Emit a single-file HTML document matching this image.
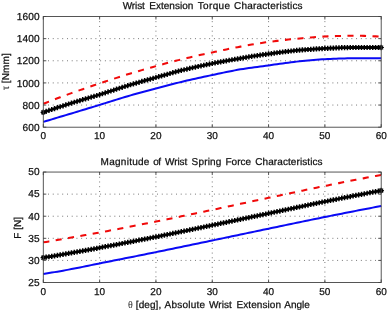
<!DOCTYPE html>
<html><head><meta charset="utf-8"><title>Wrist plots</title>
<style>
html,body{margin:0;padding:0;background:#fff;}
body{width:388px;height:310px;overflow:hidden;}
svg{display:block;}
text{text-rendering:geometricPrecision;}
text{font-family:"Liberation Sans",sans-serif;font-size:10px;fill:#111;stroke:#111;stroke-width:0.25px;}
.tk{font-size:10.1px;letter-spacing:0.1px;}
.tkx{font-size:10px;}
.sym{font-family:"Liberation Serif",serif;stroke:none;fill:#222;}
</style></head><body>
<svg width="388" height="310" viewBox="0 0 388 310">
<rect width="388" height="310" fill="#fff"/>
<defs><filter id="soft" x="0" y="0" width="100%" height="100%" filterUnits="userSpaceOnUse" color-interpolation-filters="sRGB"><feGaussianBlur stdDeviation="0.3"/></filter></defs>
<g filter="url(#soft)">

<path d="M99.62,16.50V127.20M155.93,16.50V127.20M212.25,16.50V127.20M268.57,16.50V127.20M324.88,16.50V127.20M43.30,105.06H381.20M43.30,82.92H381.20M43.30,60.78H381.20M43.30,38.64H381.20" stroke="#505050" stroke-width="0.85" stroke-dasharray="0.9 3.84" fill="none"/>
<path d="M43.30,121.85 L46.12,121.02 L48.93,120.18 L51.75,119.34 L54.56,118.50 L57.38,117.66 L60.19,116.82 L63.01,115.97 L65.83,115.13 L68.64,114.28 L71.46,113.44 L74.27,112.59 L77.09,111.74 L79.91,110.89 L82.72,110.04 L85.54,109.19 L88.35,108.33 L91.17,107.48 L93.98,106.62 L96.80,105.76 L99.62,104.90 L102.43,104.03 L105.25,103.15 L108.06,102.27 L110.88,101.38 L113.70,100.50 L116.51,99.61 L119.33,98.74 L122.14,97.88 L124.96,97.03 L127.77,96.20 L130.59,95.38 L133.41,94.58 L136.22,93.79 L139.04,93.00 L141.85,92.23 L144.67,91.46 L147.49,90.70 L150.30,89.94 L153.12,89.19 L155.93,88.44 L158.75,87.70 L161.56,86.95 L164.38,86.21 L167.20,85.47 L170.01,84.74 L172.83,84.02 L175.64,83.31 L178.46,82.61 L181.28,81.92 L184.09,81.25 L186.91,80.59 L189.72,79.94 L192.54,79.30 L195.35,78.67 L198.17,78.05 L200.99,77.44 L203.80,76.84 L206.62,76.24 L209.43,75.64 L212.25,75.05 L215.07,74.45 L217.88,73.84 L220.70,73.24 L223.51,72.64 L226.33,72.05 L229.14,71.47 L231.96,70.90 L234.78,70.36 L237.59,69.85 L240.41,69.36 L243.22,68.91 L246.04,68.48 L248.86,68.07 L251.67,67.67 L254.49,67.28 L257.30,66.91 L260.12,66.53 L262.93,66.16 L265.75,65.79 L268.57,65.40 L271.38,65.01 L274.20,64.61 L277.01,64.21 L279.83,63.80 L282.65,63.40 L285.46,63.01 L288.28,62.64 L291.09,62.28 L293.91,61.94 L296.72,61.62 L299.54,61.32 L302.36,61.02 L305.17,60.73 L307.99,60.44 L310.80,60.17 L313.62,59.91 L316.44,59.67 L319.25,59.46 L322.07,59.28 L324.88,59.14 L327.70,59.01 L330.51,58.89 L333.33,58.78 L336.15,58.67 L338.96,58.57 L341.78,58.49 L344.59,58.41 L347.41,58.35 L350.23,58.30 L353.04,58.27 L355.86,58.25 L358.67,58.22 L361.49,58.20 L364.31,58.19 L367.12,58.17 L369.94,58.16 L372.75,58.15 L375.57,58.14 L378.38,58.13 L381.20,58.13" stroke="#0a0af5" stroke-width="2.0" fill="none" stroke-linejoin="round"/>
<path d="M43.30,103.80 L46.12,102.68 L48.93,101.58 L51.75,100.49 L54.56,99.40 L57.38,98.33 L60.19,97.27 L63.01,96.22 L65.83,95.17 L68.64,94.14 L71.46,93.12 L74.27,92.11 L77.09,91.12 L79.91,90.13 L82.72,89.16 L85.54,88.19 L88.35,87.23 L91.17,86.28 L93.98,85.34 L96.80,84.39 L99.62,83.45 L102.43,82.51 L105.25,81.58 L108.06,80.64 L110.88,79.71 L113.70,78.79 L116.51,77.88 L119.33,76.97 L122.14,76.08 L124.96,75.19 L127.77,74.32 L130.59,73.46 L133.41,72.61 L136.22,71.77 L139.04,70.94 L141.85,70.11 L144.67,69.30 L147.49,68.49 L150.30,67.69 L153.12,66.90 L155.93,66.12 L158.75,65.34 L161.56,64.57 L164.38,63.81 L167.20,63.05 L170.01,62.30 L172.83,61.56 L175.64,60.84 L178.46,60.12 L181.28,59.41 L184.09,58.72 L186.91,58.05 L189.72,57.38 L192.54,56.73 L195.35,56.09 L198.17,55.45 L200.99,54.83 L203.80,54.21 L206.62,53.59 L209.43,52.98 L212.25,52.38 L215.07,51.77 L217.88,51.17 L220.70,50.57 L223.51,49.97 L226.33,49.39 L229.14,48.81 L231.96,48.24 L234.78,47.68 L237.59,47.14 L240.41,46.62 L243.22,46.10 L246.04,45.60 L248.86,45.09 L251.67,44.60 L254.49,44.12 L257.30,43.65 L260.12,43.20 L262.93,42.77 L265.75,42.35 L268.57,41.96 L271.38,41.59 L274.20,41.23 L277.01,40.88 L279.83,40.54 L282.65,40.21 L285.46,39.89 L288.28,39.59 L291.09,39.30 L293.91,39.02 L296.72,38.75 L299.54,38.48 L302.36,38.21 L305.17,37.94 L307.99,37.68 L310.80,37.43 L313.62,37.20 L316.44,36.98 L319.25,36.79 L322.07,36.63 L324.88,36.50 L327.70,36.38 L330.51,36.27 L333.33,36.16 L336.15,36.06 L338.96,35.97 L341.78,35.89 L344.59,35.82 L347.41,35.77 L350.23,35.74 L353.04,35.72 L355.86,35.73 L358.67,35.77 L361.49,35.82 L364.31,35.89 L367.12,35.98 L369.94,36.09 L372.75,36.21 L375.57,36.36 L378.38,36.52 L381.20,36.69" stroke="#f00a0a" stroke-width="2.05" fill="none" stroke-dasharray="6.1 6.43"/>
<path d="M43.30,112.38 L46.12,111.42 L48.93,110.46 L51.75,109.52 L54.56,108.58 L57.38,107.65 L60.19,106.73 L63.01,105.81 L65.83,104.91 L68.64,104.01 L71.46,103.12 L74.27,102.24 L77.09,101.39 L79.91,100.54 L82.72,99.70 L85.54,98.87 L88.35,98.03 L91.17,97.20 L93.98,96.36 L96.80,95.51 L99.62,94.64 L102.43,93.75 L105.25,92.85 L108.06,91.94 L110.88,91.02 L113.70,90.10 L116.51,89.18 L119.33,88.27 L122.14,87.36 L124.96,86.48 L127.77,85.61 L130.59,84.76 L133.41,83.92 L136.22,83.10 L139.04,82.28 L141.85,81.47 L144.67,80.66 L147.49,79.87 L150.30,79.07 L153.12,78.28 L155.93,77.48 L158.75,76.69 L161.56,75.89 L164.38,75.09 L167.20,74.29 L170.01,73.49 L172.83,72.71 L175.64,71.94 L178.46,71.19 L181.28,70.46 L184.09,69.76 L186.91,69.07 L189.72,68.40 L192.54,67.75 L195.35,67.11 L198.17,66.48 L200.99,65.87 L203.80,65.27 L206.62,64.67 L209.43,64.09 L212.25,63.52 L215.07,62.95 L217.88,62.40 L220.70,61.85 L223.51,61.32 L226.33,60.79 L229.14,60.27 L231.96,59.77 L234.78,59.27 L237.59,58.78 L240.41,58.30 L243.22,57.82 L246.04,57.35 L248.86,56.89 L251.67,56.44 L254.49,55.99 L257.30,55.56 L260.12,55.13 L262.93,54.71 L265.75,54.31 L268.57,53.92 L271.38,53.53 L274.20,53.15 L277.01,52.76 L279.83,52.39 L282.65,52.02 L285.46,51.67 L288.28,51.34 L291.09,51.02 L293.91,50.73 L296.72,50.46 L299.54,50.21 L302.36,49.96 L305.17,49.73 L307.99,49.50 L310.80,49.29 L313.62,49.09 L316.44,48.90 L319.25,48.73 L322.07,48.57 L324.88,48.44 L327.70,48.31 L330.51,48.18 L333.33,48.05 L336.15,47.93 L338.96,47.81 L341.78,47.71 L344.59,47.63 L347.41,47.56 L350.23,47.52 L353.04,47.50 L355.86,47.50 L358.67,47.50 L361.49,47.49 L364.31,47.49 L367.12,47.49 L369.94,47.49 L372.75,47.49 L375.57,47.49 L378.38,47.49 L381.20,47.49" stroke="#000" stroke-width="2.8" fill="none"/>
<path d="M43.30,109.78V114.98M46.12,108.82V114.02M48.93,107.86V113.06M51.75,106.92V112.12M54.56,105.98V111.18M57.38,105.05V110.25M60.19,104.13V109.33M63.01,103.21V108.41M65.83,102.31V107.51M68.64,101.41V106.61M71.46,100.52V105.72M74.27,99.64V104.84M77.09,98.79V103.99M79.91,97.94V103.14M82.72,97.10V102.30M85.54,96.27V101.47M88.35,95.43V100.63M91.17,94.60V99.80M93.98,93.76V98.96M96.80,92.91V98.11M99.62,92.04V97.24M102.43,91.15V96.35M105.25,90.25V95.45M108.06,89.34V94.54M110.88,88.42V93.62M113.70,87.50V92.70M116.51,86.58V91.78M119.33,85.67V90.87M122.14,84.76V89.96M124.96,83.88V89.08M127.77,83.01V88.21M130.59,82.16V87.36M133.41,81.32V86.52M136.22,80.50V85.70M139.04,79.68V84.88M141.85,78.87V84.07M144.67,78.06V83.26M147.49,77.27V82.47M150.30,76.47V81.67M153.12,75.68V80.88M155.93,74.88V80.08M158.75,74.09V79.29M161.56,73.29V78.49M164.38,72.49V77.69M167.20,71.69V76.89M170.01,70.89V76.09M172.83,70.11V75.31M175.64,69.34V74.54M178.46,68.59V73.79M181.28,67.86V73.06M184.09,67.16V72.36M186.91,66.47V71.67M189.72,65.80V71.00M192.54,65.15V70.35M195.35,64.51V69.71M198.17,63.88V69.08M200.99,63.27V68.47M203.80,62.67V67.87M206.62,62.07V67.27M209.43,61.49V66.69M212.25,60.92V66.12M215.07,60.35V65.55M217.88,59.80V65.00M220.70,59.25V64.45M223.51,58.72V63.92M226.33,58.19V63.39M229.14,57.67V62.87M231.96,57.17V62.37M234.78,56.67V61.87M237.59,56.18V61.38M240.41,55.70V60.90M243.22,55.22V60.42M246.04,54.75V59.95M248.86,54.29V59.49M251.67,53.84V59.04M254.49,53.39V58.59M257.30,52.96V58.16M260.12,52.53V57.73M262.93,52.11V57.31M265.75,51.71V56.91M268.57,51.32V56.52M271.38,50.93V56.13M274.20,50.55V55.75M277.01,50.16V55.36M279.83,49.79V54.99M282.65,49.42V54.62M285.46,49.07V54.27M288.28,48.74V53.94M291.09,48.42V53.62M293.91,48.13V53.33M296.72,47.86V53.06M299.54,47.61V52.81M302.36,47.36V52.56M305.17,47.13V52.33M307.99,46.90V52.10M310.80,46.69V51.89M313.62,46.49V51.69M316.44,46.30V51.50M319.25,46.13V51.33M322.07,45.97V51.17M324.88,45.84V51.04M327.70,45.71V50.91M330.51,45.58V50.78M333.33,45.45V50.65M336.15,45.33V50.53M338.96,45.21V50.41M341.78,45.11V50.31M344.59,45.03V50.23M347.41,44.96V50.16M350.23,44.92V50.12M353.04,44.90V50.10M355.86,44.90V50.10M358.67,44.90V50.10M361.49,44.89V50.09M364.31,44.89V50.09M367.12,44.89V50.09M369.94,44.89V50.09M372.75,44.89V50.09M375.57,44.89V50.09M378.38,44.89V50.09M381.20,44.89V50.09" stroke="#000" stroke-width="1.5" fill="none"/>
<path d="M40.60,112.38H46.00M43.30,109.68V115.08M41.39,110.47L45.21,114.29M41.39,114.29L45.21,110.47M378.50,47.49H383.90M381.20,44.79V50.19M379.29,45.58L383.11,49.39M379.29,49.39L383.11,45.58" stroke="#000" stroke-width="1.2" fill="none"/>
<path d="M43.30,127.20v-3.0M43.30,16.50v3.0M99.62,127.20v-3.0M99.62,16.50v3.0M155.93,127.20v-3.0M155.93,16.50v3.0M212.25,127.20v-3.0M212.25,16.50v3.0M268.57,127.20v-3.0M268.57,16.50v3.0M324.88,127.20v-3.0M324.88,16.50v3.0M381.20,127.20v-3.0M381.20,16.50v3.0M43.30,127.20h3.0M381.20,127.20h-3.0M43.30,105.06h3.0M381.20,105.06h-3.0M43.30,82.92h3.0M381.20,82.92h-3.0M43.30,60.78h3.0M381.20,60.78h-3.0M43.30,38.64h3.0M381.20,38.64h-3.0M43.30,16.50h3.0M381.20,16.50h-3.0" stroke="#444" stroke-width="0.9" fill="none"/>
<rect x="43.30" y="16.50" width="337.90" height="110.70" fill="none" stroke="#444" stroke-width="0.9"/>
<text x="39.7" y="130.90" text-anchor="end" class="tk">600</text>
<text x="39.7" y="108.76" text-anchor="end" class="tk">800</text>
<text x="39.7" y="86.62" text-anchor="end" class="tk">1000</text>
<text x="39.7" y="64.48" text-anchor="end" class="tk">1200</text>
<text x="39.7" y="42.34" text-anchor="end" class="tk">1400</text>
<text x="39.7" y="20.20" text-anchor="end" class="tk">1600</text>
<text x="43.30" y="138.90" text-anchor="middle" class="tkx">0</text>
<text x="99.62" y="138.90" text-anchor="middle" class="tkx">10</text>
<text x="155.93" y="138.90" text-anchor="middle" class="tkx">20</text>
<text x="212.25" y="138.90" text-anchor="middle" class="tkx">30</text>
<text x="268.57" y="138.90" text-anchor="middle" class="tkx">40</text>
<text x="324.88" y="138.90" text-anchor="middle" class="tkx">50</text>
<text x="381.20" y="138.90" text-anchor="middle" class="tkx">60</text>
<text x="122.67" y="9.4" textLength="22.22" lengthAdjust="spacing">Wrist</text>
<text x="149.24" y="9.4" textLength="44.16" lengthAdjust="spacing">Extension</text>
<text x="197.70" y="9.4" textLength="32.30" lengthAdjust="spacing">Torque</text>
<text x="234.07" y="9.4" textLength="68.49" lengthAdjust="spacing">Characteristics</text>
<text transform="translate(9.0,90.2) rotate(-90)"><tspan class="sym" font-size="11.5">τ</tspan><tspan dx="-0.6" letter-spacing="0.15"> [Nmm]</tspan></text>
<path d="M99.62,172.05V282.50M155.93,172.05V282.50M212.25,172.05V282.50M268.57,172.05V282.50M324.88,172.05V282.50M43.30,260.41H381.20M43.30,238.32H381.20M43.30,216.23H381.20M43.30,194.14H381.20" stroke="#505050" stroke-width="0.85" stroke-dasharray="0.9 3.84" fill="none"/>
<path d="M43.30,273.99 L46.12,273.53 L48.93,273.07 L51.75,272.60 L54.56,272.13 L57.38,271.64 L60.19,271.15 L63.01,270.65 L65.83,270.14 L68.64,269.62 L71.46,269.10 L74.27,268.56 L77.09,268.01 L79.91,267.45 L82.72,266.88 L85.54,266.30 L88.35,265.72 L91.17,265.13 L93.98,264.55 L96.80,263.97 L99.62,263.40 L102.43,262.83 L105.25,262.27 L108.06,261.71 L110.88,261.15 L113.70,260.58 L116.51,260.02 L119.33,259.46 L122.14,258.91 L124.96,258.35 L127.77,257.79 L130.59,257.23 L133.41,256.67 L136.22,256.11 L139.04,255.55 L141.85,254.98 L144.67,254.42 L147.49,253.85 L150.30,253.29 L153.12,252.72 L155.93,252.14 L158.75,251.57 L161.56,251.00 L164.38,250.42 L167.20,249.84 L170.01,249.26 L172.83,248.68 L175.64,248.10 L178.46,247.52 L181.28,246.93 L184.09,246.35 L186.91,245.76 L189.72,245.18 L192.54,244.59 L195.35,244.00 L198.17,243.42 L200.99,242.83 L203.80,242.24 L206.62,241.66 L209.43,241.07 L212.25,240.48 L215.07,239.89 L217.88,239.31 L220.70,238.72 L223.51,238.13 L226.33,237.53 L229.14,236.94 L231.96,236.35 L234.78,235.76 L237.59,235.17 L240.41,234.57 L243.22,233.98 L246.04,233.39 L248.86,232.80 L251.67,232.21 L254.49,231.61 L257.30,231.02 L260.12,230.43 L262.93,229.85 L265.75,229.26 L268.57,228.67 L271.38,228.08 L274.20,227.50 L277.01,226.91 L279.83,226.32 L282.65,225.73 L285.46,225.14 L288.28,224.56 L291.09,223.97 L293.91,223.38 L296.72,222.80 L299.54,222.21 L302.36,221.63 L305.17,221.04 L307.99,220.46 L310.80,219.88 L313.62,219.31 L316.44,218.73 L319.25,218.16 L322.07,217.59 L324.88,217.02 L327.70,216.46 L330.51,215.89 L333.33,215.33 L336.15,214.77 L338.96,214.21 L341.78,213.65 L344.59,213.09 L347.41,212.54 L350.23,211.98 L353.04,211.43 L355.86,210.88 L358.67,210.33 L361.49,209.79 L364.31,209.24 L367.12,208.69 L369.94,208.15 L372.75,207.61 L375.57,207.07 L378.38,206.53 L381.20,206.00" stroke="#0a0af5" stroke-width="2.0" fill="none" stroke-linejoin="round"/>
<path d="M43.30,242.36 L46.12,241.89 L48.93,241.41 L51.75,240.94 L54.56,240.46 L57.38,239.98 L60.19,239.50 L63.01,239.01 L65.83,238.53 L68.64,238.04 L71.46,237.54 L74.27,237.05 L77.09,236.55 L79.91,236.06 L82.72,235.55 L85.54,235.05 L88.35,234.54 L91.17,234.03 L93.98,233.52 L96.80,233.00 L99.62,232.48 L102.43,231.96 L105.25,231.43 L108.06,230.90 L110.88,230.36 L113.70,229.83 L116.51,229.29 L119.33,228.75 L122.14,228.21 L124.96,227.66 L127.77,227.11 L130.59,226.56 L133.41,226.01 L136.22,225.46 L139.04,224.90 L141.85,224.35 L144.67,223.79 L147.49,223.23 L150.30,222.67 L153.12,222.10 L155.93,221.54 L158.75,220.97 L161.56,220.40 L164.38,219.83 L167.20,219.26 L170.01,218.68 L172.83,218.10 L175.64,217.52 L178.46,216.94 L181.28,216.35 L184.09,215.77 L186.91,215.18 L189.72,214.59 L192.54,214.00 L195.35,213.41 L198.17,212.82 L200.99,212.23 L203.80,211.63 L206.62,211.04 L209.43,210.45 L212.25,209.86 L215.07,209.26 L217.88,208.67 L220.70,208.07 L223.51,207.47 L226.33,206.87 L229.14,206.27 L231.96,205.67 L234.78,205.07 L237.59,204.46 L240.41,203.86 L243.22,203.26 L246.04,202.65 L248.86,202.05 L251.67,201.44 L254.49,200.84 L257.30,200.24 L260.12,199.64 L262.93,199.04 L265.75,198.44 L268.57,197.84 L271.38,197.24 L274.20,196.64 L277.01,196.04 L279.83,195.44 L282.65,194.84 L285.46,194.24 L288.28,193.64 L291.09,193.04 L293.91,192.44 L296.72,191.84 L299.54,191.24 L302.36,190.65 L305.17,190.05 L307.99,189.46 L310.80,188.87 L313.62,188.28 L316.44,187.70 L319.25,187.11 L322.07,186.54 L324.88,185.96 L327.70,185.39 L330.51,184.82 L333.33,184.25 L336.15,183.68 L338.96,183.12 L341.78,182.55 L344.59,181.99 L347.41,181.43 L350.23,180.88 L353.04,180.32 L355.86,179.77 L358.67,179.21 L361.49,178.67 L364.31,178.12 L367.12,177.57 L369.94,177.03 L372.75,176.49 L375.57,175.95 L378.38,175.41 L381.20,174.87" stroke="#f00a0a" stroke-width="2.05" fill="none" stroke-dasharray="6.1 6.43"/>
<path d="M43.30,257.68 L46.12,257.22 L48.93,256.75 L51.75,256.28 L54.56,255.81 L57.38,255.33 L60.19,254.85 L63.01,254.37 L65.83,253.88 L68.64,253.39 L71.46,252.90 L74.27,252.40 L77.09,251.89 L79.91,251.39 L82.72,250.88 L85.54,250.36 L88.35,249.84 L91.17,249.32 L93.98,248.80 L96.80,248.28 L99.62,247.75 L102.43,247.22 L105.25,246.69 L108.06,246.16 L110.88,245.63 L113.70,245.09 L116.51,244.56 L119.33,244.02 L122.14,243.48 L124.96,242.94 L127.77,242.40 L130.59,241.86 L133.41,241.31 L136.22,240.76 L139.04,240.21 L141.85,239.66 L144.67,239.11 L147.49,238.55 L150.30,237.99 L153.12,237.43 L155.93,236.87 L158.75,236.31 L161.56,235.74 L164.38,235.17 L167.20,234.60 L170.01,234.02 L172.83,233.44 L175.64,232.86 L178.46,232.27 L181.28,231.69 L184.09,231.10 L186.91,230.51 L189.72,229.93 L192.54,229.34 L195.35,228.75 L198.17,228.16 L200.99,227.57 L203.80,226.98 L206.62,226.39 L209.43,225.80 L212.25,225.21 L215.07,224.63 L217.88,224.04 L220.70,223.45 L223.51,222.87 L226.33,222.28 L229.14,221.69 L231.96,221.10 L234.78,220.51 L237.59,219.92 L240.41,219.33 L243.22,218.74 L246.04,218.15 L248.86,217.56 L251.67,216.97 L254.49,216.38 L257.30,215.79 L260.12,215.20 L262.93,214.61 L265.75,214.02 L268.57,213.43 L271.38,212.84 L274.20,212.24 L277.01,211.65 L279.83,211.05 L282.65,210.45 L285.46,209.85 L288.28,209.25 L291.09,208.65 L293.91,208.05 L296.72,207.46 L299.54,206.86 L302.36,206.26 L305.17,205.67 L307.99,205.07 L310.80,204.48 L313.62,203.90 L316.44,203.31 L319.25,202.73 L322.07,202.15 L324.88,201.58 L327.70,201.01 L330.51,200.44 L333.33,199.88 L336.15,199.31 L338.96,198.75 L341.78,198.19 L344.59,197.63 L347.41,197.08 L350.23,196.53 L353.04,195.97 L355.86,195.42 L358.67,194.88 L361.49,194.33 L364.31,193.79 L367.12,193.25 L369.94,192.71 L372.75,192.17 L375.57,191.64 L378.38,191.10 L381.20,190.57" stroke="#000" stroke-width="2.8" fill="none"/>
<path d="M43.30,255.08V260.28M46.12,254.62V259.82M48.93,254.15V259.35M51.75,253.68V258.88M54.56,253.21V258.41M57.38,252.73V257.93M60.19,252.25V257.45M63.01,251.77V256.97M65.83,251.28V256.48M68.64,250.79V255.99M71.46,250.30V255.50M74.27,249.80V255.00M77.09,249.29V254.49M79.91,248.79V253.99M82.72,248.28V253.48M85.54,247.76V252.96M88.35,247.24V252.44M91.17,246.72V251.92M93.98,246.20V251.40M96.80,245.68V250.88M99.62,245.15V250.35M102.43,244.62V249.82M105.25,244.09V249.29M108.06,243.56V248.76M110.88,243.03V248.23M113.70,242.49V247.69M116.51,241.96V247.16M119.33,241.42V246.62M122.14,240.88V246.08M124.96,240.34V245.54M127.77,239.80V245.00M130.59,239.26V244.46M133.41,238.71V243.91M136.22,238.16V243.36M139.04,237.61V242.81M141.85,237.06V242.26M144.67,236.51V241.71M147.49,235.95V241.15M150.30,235.39V240.59M153.12,234.83V240.03M155.93,234.27V239.47M158.75,233.71V238.91M161.56,233.14V238.34M164.38,232.57V237.77M167.20,232.00V237.20M170.01,231.42V236.62M172.83,230.84V236.04M175.64,230.26V235.46M178.46,229.67V234.87M181.28,229.09V234.29M184.09,228.50V233.70M186.91,227.91V233.11M189.72,227.33V232.53M192.54,226.74V231.94M195.35,226.15V231.35M198.17,225.56V230.76M200.99,224.97V230.17M203.80,224.38V229.58M206.62,223.79V228.99M209.43,223.20V228.40M212.25,222.61V227.81M215.07,222.03V227.23M217.88,221.44V226.64M220.70,220.85V226.05M223.51,220.27V225.47M226.33,219.68V224.88M229.14,219.09V224.29M231.96,218.50V223.70M234.78,217.91V223.11M237.59,217.32V222.52M240.41,216.73V221.93M243.22,216.14V221.34M246.04,215.55V220.75M248.86,214.96V220.16M251.67,214.37V219.57M254.49,213.78V218.98M257.30,213.19V218.39M260.12,212.60V217.80M262.93,212.01V217.21M265.75,211.42V216.62M268.57,210.83V216.03M271.38,210.24V215.44M274.20,209.64V214.84M277.01,209.05V214.25M279.83,208.45V213.65M282.65,207.85V213.05M285.46,207.25V212.45M288.28,206.65V211.85M291.09,206.05V211.25M293.91,205.45V210.65M296.72,204.86V210.06M299.54,204.26V209.46M302.36,203.66V208.86M305.17,203.07V208.27M307.99,202.47V207.67M310.80,201.88V207.08M313.62,201.30V206.50M316.44,200.71V205.91M319.25,200.13V205.33M322.07,199.55V204.75M324.88,198.98V204.18M327.70,198.41V203.61M330.51,197.84V203.04M333.33,197.28V202.48M336.15,196.71V201.91M338.96,196.15V201.35M341.78,195.59V200.79M344.59,195.03V200.23M347.41,194.48V199.68M350.23,193.93V199.13M353.04,193.37V198.57M355.86,192.82V198.02M358.67,192.28V197.48M361.49,191.73V196.93M364.31,191.19V196.39M367.12,190.65V195.85M369.94,190.11V195.31M372.75,189.57V194.77M375.57,189.04V194.24M378.38,188.50V193.70M381.20,187.97V193.17" stroke="#000" stroke-width="1.5" fill="none"/>
<path d="M40.60,257.68H46.00M43.30,254.98V260.38M41.39,255.77L45.21,259.59M41.39,259.59L45.21,255.77M378.50,190.57H383.90M381.20,187.87V193.27M379.29,188.66L383.11,192.48M379.29,192.48L383.11,188.66" stroke="#000" stroke-width="1.2" fill="none"/>
<path d="M43.30,282.50v-3.0M43.30,172.05v3.0M99.62,282.50v-3.0M99.62,172.05v3.0M155.93,282.50v-3.0M155.93,172.05v3.0M212.25,282.50v-3.0M212.25,172.05v3.0M268.57,282.50v-3.0M268.57,172.05v3.0M324.88,282.50v-3.0M324.88,172.05v3.0M381.20,282.50v-3.0M381.20,172.05v3.0M43.30,282.50h3.0M381.20,282.50h-3.0M43.30,260.41h3.0M381.20,260.41h-3.0M43.30,238.32h3.0M381.20,238.32h-3.0M43.30,216.23h3.0M381.20,216.23h-3.0M43.30,194.14h3.0M381.20,194.14h-3.0M43.30,172.05h3.0M381.20,172.05h-3.0" stroke="#444" stroke-width="0.9" fill="none"/>
<rect x="43.30" y="172.05" width="337.90" height="110.45" fill="none" stroke="#444" stroke-width="0.9"/>
<text x="39.7" y="285.85" text-anchor="end" class="tk">25</text>
<text x="39.7" y="263.76" text-anchor="end" class="tk">30</text>
<text x="39.7" y="241.67" text-anchor="end" class="tk">35</text>
<text x="39.7" y="219.58" text-anchor="end" class="tk">40</text>
<text x="39.7" y="197.49" text-anchor="end" class="tk">45</text>
<text x="39.7" y="175.40" text-anchor="end" class="tk">50</text>
<text x="43.30" y="294.80" text-anchor="middle" class="tkx">0</text>
<text x="99.62" y="294.80" text-anchor="middle" class="tkx">10</text>
<text x="155.93" y="294.80" text-anchor="middle" class="tkx">20</text>
<text x="212.25" y="294.80" text-anchor="middle" class="tkx">30</text>
<text x="268.57" y="294.80" text-anchor="middle" class="tkx">40</text>
<text x="324.88" y="294.80" text-anchor="middle" class="tkx">50</text>
<text x="381.20" y="294.80" text-anchor="middle" class="tkx">60</text>
<text x="100.60" y="164.9" textLength="48.82" lengthAdjust="spacing">Magnitude</text>
<text x="153.20" y="164.9" textLength="7.94" lengthAdjust="spacing">of</text>
<text x="164.97" y="164.9" textLength="22.34" lengthAdjust="spacing">Wrist</text>
<text x="191.56" y="164.9" textLength="29.84" lengthAdjust="spacing">Spring</text>
<text x="225.38" y="164.9" textLength="25.74" lengthAdjust="spacing">Force</text>
<text x="255.20" y="164.9" textLength="67.36" lengthAdjust="spacing">Characteristics</text>
<text transform="translate(20.9,238.7) rotate(-90)">F [N]</text>
<text class="sym" x="127.9" y="307.55" font-size="10.5">θ</text>
<text x="135.80" y="307.55" textLength="25.40" lengthAdjust="spacing">[deg],</text>
<text x="164.47" y="307.55" textLength="40.65" lengthAdjust="spacing">Absolute</text>
<text x="208.91" y="307.55" textLength="22.88" lengthAdjust="spacing">Wrist</text>
<text x="236.44" y="307.55" textLength="44.56" lengthAdjust="spacing">Extension</text>
<text x="284.32" y="307.55" textLength="25.46" lengthAdjust="spacing">Angle</text>
</g></svg></body></html>
